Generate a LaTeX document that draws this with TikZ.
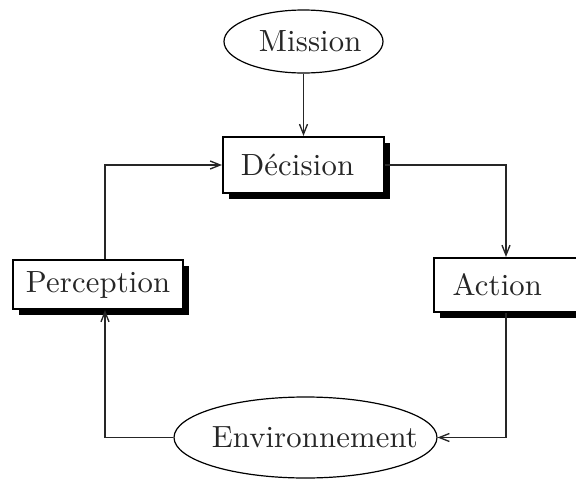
\documentclass[tikz,border=0pt]{standalone}
\usepackage{fontspec}
\newfontfamily\lmsp{lmroman10-regular.otf}[LetterSpace=0.5]
\usetikzlibrary{shapes.geometric,arrows.meta,calc,shadows}
\newcommand{\cbox}[1]{\makebox[0pt]{#1}}
\begin{document}
\begin{tikzpicture}[x=0.75pt,y=-0.75pt,
  every node/.style={font=\lmsp\fontsize{23}{27}\selectfont, inner sep=0pt, text=black!85},
  box/.style={draw, fill=white, rectangle, line width=1.6pt,
    drop shadow={opacity=1, fill=black, shadow xshift=4.5pt, shadow yshift=-4.5pt}},
  oval/.style={draw, fill=white, ellipse, line width=0.9pt},
  arr/.style={draw=black!85, line width=1pt, -{Straight Barb[length=7.5pt,width=6pt]}}]
\useasboundingbox (0,0) rectangle (576,483);
\node[oval, minimum width=119.25pt, minimum height=47.25pt] (mission) at (303.5,41.5) {\cbox{\hspace*{10pt}Mission}};
\node[box, minimum width=120.75pt, minimum height=42pt] (dec) at (303.5,165) {\cbox{Décision\hspace*{9pt}}};
\node[box, minimum width=127.5pt, minimum height=36.75pt] (perc) at (98,284.5) {\cbox{Perception}};
\node[box, minimum width=108pt, minimum height=40.5pt] (act) at (506,285) {\cbox{Action\hspace*{13pt}}};
\node[oval, minimum width=197.25pt, minimum height=60.75pt] (env) at (305.5,437.5) {\cbox{\hspace*{14pt}Environnement}};
\draw[arr] (mission) -- (dec);
\draw[arr] ($(perc.north)+(7,0)$) |- (dec.west);
\draw[arr] (dec.east) -| (act.north);
\draw[arr] (act.south) |- (env.east);
\draw[arr] (env.west) -| ($(perc.south)+(7,0)$);
\end{tikzpicture}
\end{document}
